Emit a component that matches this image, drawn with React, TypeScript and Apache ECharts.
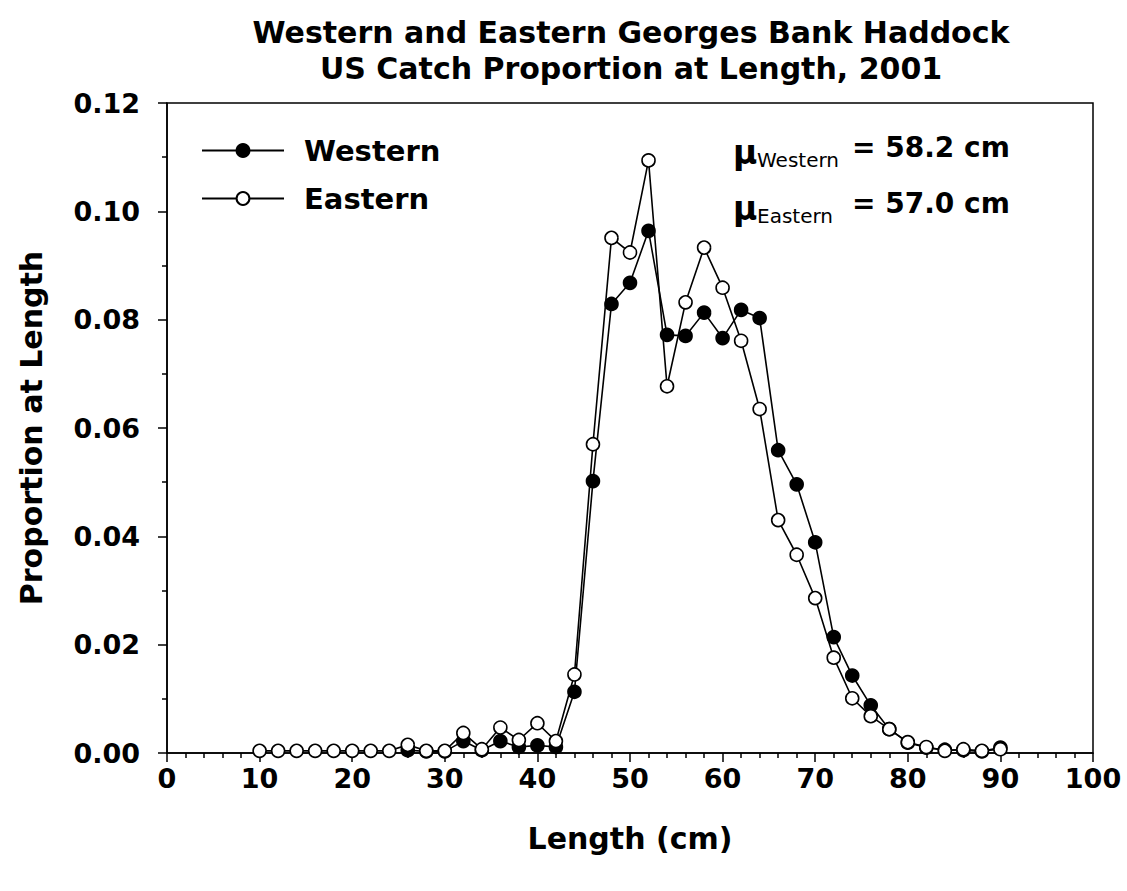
import React, { useEffect, useRef } from "react";
import * as echarts from "echarts";

// Length classes (cm) and proportion of catch at each length
const lengthsEastern = [
  10, 12, 14, 16, 18, 20, 22, 24, 26, 28, 30, 32, 34, 36, 38, 40, 42, 44, 46, 48, 50,
  52, 54, 56, 58, 60, 62, 64, 66, 68, 70, 72, 74, 76, 78, 80, 82, 84, 86, 88, 90,
];
const eastern = [
  0.0004, 0.0004, 0.0004, 0.0004, 0.0004, 0.0004, 0.0004, 0.0004, 0.0015, 0.0004, 0.0004,
  0.0037, 0.0007, 0.0047, 0.0024, 0.0055, 0.0022, 0.0145, 0.057, 0.0951, 0.0924, 0.1094,
  0.0677, 0.0832, 0.0933, 0.0859, 0.0761, 0.0635, 0.043, 0.0366, 0.0286, 0.0176, 0.0101,
  0.0068, 0.0044, 0.002, 0.0011, 0.0004, 0.0007, 0.0004, 0.0007,
];

const lengthsWestern = [
  26, 28, 30, 32, 34, 36, 38, 40, 42, 44, 46, 48, 50, 52, 54, 56, 58, 60, 62, 64, 66, 68,
  70, 72, 74, 76, 78, 80, 82, 84, 86, 88, 90,
];
const western = [
  0.0005, 0.0003, 0.0003, 0.0022, 0.0005, 0.0022, 0.0011, 0.0014, 0.0011, 0.0113, 0.0502,
  0.0829, 0.0868, 0.0964, 0.0772, 0.077, 0.0813, 0.0766, 0.0818, 0.0803, 0.0559, 0.0496,
  0.0389, 0.0214, 0.0143, 0.0088, 0.0044, 0.0019, 0.001, 0.0006, 0.0005, 0.0003, 0.001,
];

const meanWestern = "58.2";
const meanEastern = "57.0";

const FONT = "DejaVu Sans, Liberation Sans, Arial, sans-serif";

export default function App() {
  const ref = useRef<HTMLDivElement>(null);

  useEffect(() => {
    if (!ref.current) return;
    const chart = echarts.init(ref.current, null, { renderer: "svg" });

    const toPairs = (xs: number[], ys: number[]) => xs.map((x, i) => [x, ys[i]]);

    const axisLine = { show: true, onZero: false, lineStyle: { color: "#000", width: 1.5 } };
    const axisTick = { show: true, inside: false, length: 9, lineStyle: { color: "#000", width: 1.5 } };
    const minorTick = { show: true, length: 5, lineStyle: { color: "#000", width: 1.5 } };
    const tickLabel = { fontFamily: FONT, fontWeight: "bold", fontSize: 27, color: "#000" };
    const axisName = { fontFamily: FONT, fontWeight: "bold", fontSize: 30, color: "#000" };

    chart.setOption({
      animation: false,
      backgroundColor: "#fff",
      title: {
        text: "Western and Eastern Georges Bank Haddock\nUS Catch Proportion at Length, 2001",
        left: 626,
        top: 9,
        textAlign: "center",
        textStyle: {
          fontFamily: FONT,
          fontWeight: "bold",
          fontSize: 30,
          lineHeight: 36,
          color: "#000",
        },
      },
      legend: {
        orient: "vertical",
        left: 201,
        top: 136,
        padding: 0,
        itemWidth: 82,
        itemHeight: 16,
        itemGap: 19,
        data: ["Western", "Eastern"],
        textStyle: {
          fontFamily: FONT,
          fontWeight: "bold",
          fontSize: 29,
          color: "#000",
          padding: [0, 0, 0, 15],
        },
      },
      grid: {
        left: 167,
        right: 34,
        top: 103,
        bottom: 138,
        show: true,
        borderColor: "#000",
        borderWidth: 1.5,
        containLabel: false,
      },
      xAxis: {
        type: "value",
        min: 0,
        max: 100,
        interval: 10,
        axisLine,
        axisTick,
        minorTick: { ...minorTick, splitNumber: 5 },
        splitLine: { show: false },
        axisLabel: { margin: 12, ...tickLabel },
        name: "Length (cm)",
        nameLocation: "middle",
        nameGap: 70,
        nameTextStyle: axisName,
      },
      yAxis: {
        type: "value",
        min: 0,
        max: 0.12,
        interval: 0.02,
        axisLine,
        axisTick,
        minorTick: { ...minorTick, splitNumber: 2 },
        splitLine: { show: false },
        axisLabel: { margin: 27, ...tickLabel, formatter: (v: number) => v.toFixed(2) },
        name: "Proportion at Length",
        nameLocation: "middle",
        nameGap: 121,
        nameRotate: 90,
        nameTextStyle: axisName,
      },
      graphic: [
        { type: "text", left: 733, top: 136, style: { text: "μ", font: `bold 33px ${FONT}`, fill: "#000" } },
        { type: "text", left: 757, top: 150, style: { text: "Western", font: `20px ${FONT}`, fill: "#000" } },
        { type: "text", left: 852, top: 133, style: { text: `= ${meanWestern} cm`, font: `bold 28px ${FONT}`, fill: "#000" } },
        { type: "text", left: 733, top: 192, style: { text: "μ", font: `bold 33px ${FONT}`, fill: "#000" } },
        { type: "text", left: 757, top: 206, style: { text: "Eastern", font: `20px ${FONT}`, fill: "#000" } },
        { type: "text", left: 852, top: 189, style: { text: `= ${meanEastern} cm`, font: `bold 28px ${FONT}`, fill: "#000" } },
      ],
      series: [
        {
          name: "Western",
          type: "line",
          data: toPairs(lengthsWestern, western),
          symbol: "circle",
          symbolSize: 13,
          lineStyle: { color: "#000", width: 1.6 },
          itemStyle: { color: "#000", borderColor: "#000", borderWidth: 1.6 },
          z: 2,
        },
        {
          name: "Eastern",
          type: "line",
          data: toPairs(lengthsEastern, eastern),
          symbol: "circle",
          symbolSize: 13,
          lineStyle: { color: "#000", width: 1.6 },
          itemStyle: { color: "#fff", borderColor: "#000", borderWidth: 1.6 },
          z: 3,
        },
      ],
    });

    return () => chart.dispose();
  }, []);

  return (
    <div
      ref={ref}
      style={{ position: "fixed", left: 0, top: 0, width: 1127, height: 891, background: "#fff" }}
    />
  );
}
